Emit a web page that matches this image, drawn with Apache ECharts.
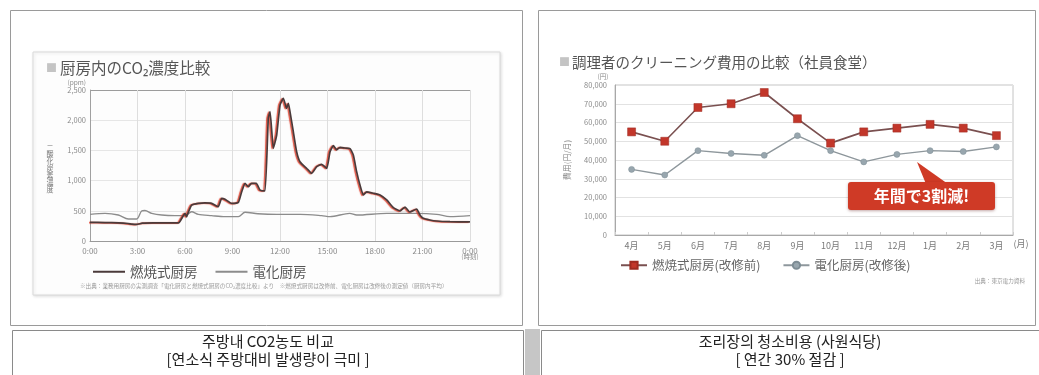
<!DOCTYPE html>
<html>
<head>
<meta charset="utf-8">
<script src="https://cdn.jsdelivr.net/npm/echarts@6/dist/echarts.min.js"></script>
<style>
  html, body { margin: 0; padding: 0; background: #ffffff; }
  #chart { width: 1039px; height: 375px; }
</style>
</head>
<body>
<div id="chart"></div>
<script>
// CO2 concentration in the kitchen through one day: hour of day and ppm
const burnHours = [0, 0.95, 1.8, 2.4, 2.65, 2.95, 3.3, 4.0, 5.0, 5.6, 5.8, 6.0, 6.1, 6.2, 6.42, 6.84, 7.26, 7.68, 8.1, 8.32, 8.53, 8.95, 9.37, 9.58, 9.79, 10.0, 10.2, 10.5, 10.74, 11.05, 11.26, 11.37, 11.58, 11.79, 12.0, 12.21, 12.42, 12.53, 12.63, 12.84, 13.05, 13.26, 13.68, 14.0, 14.32, 14.63, 14.95, 15.16, 15.37, 15.58, 15.79, 16.1, 16.42, 16.63, 16.84, 17.05, 17.26, 17.47, 17.9, 18.32, 18.74, 19.16, 19.58, 19.9, 20.2, 20.63, 20.84, 21.05, 21.47, 21.9, 22.74, 24];
const burnPpm = [310, 305, 300, 290, 280, 275, 295, 300, 300, 300, 376, 458, 400, 470, 596, 624, 630, 624, 568, 707, 690, 624, 640, 816, 955, 900, 955, 955, 844, 830, 2031, 2141, 1535, 1755, 2250, 2360, 2197, 2280, 2141, 1810, 1478, 1313, 1203, 1120, 1230, 1270, 1203, 1478, 1578, 1510, 1550, 1540, 1530, 1424, 1148, 927, 762, 812, 790, 762, 679, 552, 497, 560, 480, 530, 430, 376, 348, 331, 320, 315];
const elecHours = [0, 0.95, 1.79, 2.42, 2.95, 3.26, 3.47, 3.9, 4.53, 5.37, 6.0, 6.42, 6.84, 7.68, 8.53, 9.37, 9.79, 10.6, 11.8, 12.8, 13.3, 14.63, 15.16, 16.4, 16.84, 18.74, 20.63, 21.9, 22.74, 24];
const elecPpm = [441, 458, 430, 364, 364, 497, 505, 458, 430, 420, 420, 485, 441, 420, 403, 403, 475, 452, 441, 441, 441, 420, 403, 458, 430, 458, 458, 441, 403, 420];

// Monthly uniform-cleaning cost for cooks (staff canteen), yen
const monthLabels = ['4月', '5月', '6月', '7月', '8月', '9月', '10月', '11月', '12月', '1月', '2月', '3月'];
const burnCost = [55000, 50000, 68000, 70000, 76000, 62000, 49000, 55000, 57000, 59000, 57000, 53000];
const elecCost = [35000, 32000, 45000, 43500, 42500, 53000, 45000, 39000, 43000, 45000, 44500, 47000];

const JP = '"Noto Sans CJK JP", "Noto Sans", sans-serif';
const KR = '"Noto Sans CJK KR", "Noto Sans", sans-serif';

const pairs = (xs, ys) => xs.map((x, i) => [x, ys[i]]);
const stack = s => s.split('').join('\n');

const chart = echarts.init(document.getElementById('chart'), null, { renderer: 'canvas' });

chart.setOption({
  animation: false,
  backgroundColor: '#ffffff',
  textStyle: { fontFamily: JP },
  grid: [
    { left: 90, top: 90, width: 380, height: 151, show: false },
    { left: 615, top: 85, width: 398, height: 150, show: true, borderColor: '#c4c4c4', borderWidth: 1, backgroundColor: 'transparent' }
  ],
  xAxis: [
    {
      gridIndex: 0, type: 'value', min: 0, max: 24, interval: 3,
      axisLine: { show: true, lineStyle: { color: '#9a9a9a', width: 1 } },
      axisTick: { show: false },
      splitLine: { show: true, lineStyle: { color: '#dedede', width: 1 } },
      axisLabel: { color: '#8a8a8a', fontSize: 8, margin: 6, formatter: h => (h % 24) + ':00' }
    },
    {
      gridIndex: 1, type: 'category', data: monthLabels, boundaryGap: true,
      axisLine: { show: true, lineStyle: { color: '#a8a8a8' } },
      axisTick: { show: true, inside: true, length: 3, lineStyle: { color: '#cccccc' } },
      splitLine: { show: false },
      axisLabel: { color: '#7a7a7a', fontSize: 9, margin: 6 }
    }
  ],
  yAxis: [
    {
      gridIndex: 0, type: 'value', min: 0, max: 2500, interval: 500,
      axisLine: { show: true, lineStyle: { color: '#a0a0a0' } },
      axisTick: { show: false },
      splitLine: { show: true, lineStyle: { color: ['#e6e6e6', '#e6e6e6', '#e6e6e6', '#e6e6e6', '#e6e6e6', '#9c9c9c'] } },
      axisLabel: { color: '#8a8a8a', fontSize: 7.5, margin: 4 }
    },
    {
      gridIndex: 1, type: 'value', min: 0, max: 80000, interval: 10000,
      axisLine: { show: true, lineStyle: { color: '#a8a8a8' } },
      axisTick: { show: false },
      splitLine: { show: true, lineStyle: { color: '#e2e2e2' } },
      axisLabel: { color: '#8a8a8a', fontSize: 7.5, margin: 8,
        formatter: v => v === 0 ? '0' : v.toLocaleString('en-US') },
      name: '費用(円/月)', nameLocation: 'middle', nameRotate: 90, nameGap: 44,
      nameTextStyle: { color: '#8a8a8a', fontSize: 8 }
    }
  ],
  legend: [
    {
      data: ['燃焼式厨房', '電化厨房'], left: 88, top: 260, icon: 'rect', itemWidth: 32, itemHeight: 2, itemGap: 18,
      textStyle: { color: '#555555', fontSize: 13.5, fontFamily: JP }
    },
    {
      data: ['燃焼式厨房(改修前)', '電化厨房(改修後)'], left: 615, top: 254, itemWidth: 26, itemHeight: 9, itemGap: 22,
      textStyle: { color: '#666666', fontSize: 12.5, fontFamily: JP }
    }
  ],
  series: [
    {
      name: '電化厨房', type: 'line', xAxisIndex: 0, yAxisIndex: 0,
      data: pairs(elecHours, elecPpm), showSymbol: false, symbol: 'none', smooth: 0.3,
      lineStyle: { color: '#8c8c8c', width: 1.4 },
      itemStyle: { color: '#8c8c8c' }, z: 3
    },
    {
      name: '燃焼式厨房', type: 'line', xAxisIndex: 0, yAxisIndex: 0,
      data: pairs(burnHours, burnPpm), showSymbol: false, symbol: 'none', smooth: 0.15,
      lineStyle: { color: '#4a3a3a', width: 1.7, shadowColor: 'rgba(220,55,35,0.9)', shadowBlur: 1, shadowOffsetX: -1.3, shadowOffsetY: 0.3 },
      itemStyle: { color: '#4a3a3a' }, z: 4
    },
    {
      name: '燃焼式厨房(改修前)', type: 'line', xAxisIndex: 1, yAxisIndex: 1,
      data: burnCost, symbol: 'rect', symbolSize: 8, showSymbol: true,
      lineStyle: { color: '#7a5050', width: 1.6 },
      itemStyle: { color: '#c2362a', borderColor: '#9e2a20', borderWidth: 0.5 }, z: 4
    },
    {
      name: '電化厨房(改修後)', type: 'line', xAxisIndex: 1, yAxisIndex: 1,
      data: elecCost, symbol: 'circle', symbolSize: 6, showSymbol: true,
      lineStyle: { color: '#8e979c', width: 1.5 },
      itemStyle: { color: '#98a6ae', borderColor: '#7d8c94', borderWidth: 0.5 }, z: 3
    }
  ],
  graphic: [
    // panel frames
    { type: 'rect', z: -20, shape: { x: 10.5, y: 10.5, width: 512, height: 315 }, style: { fill: '#ffffff', stroke: '#9a9a9a', lineWidth: 1 } },
    { type: 'rect', z: -20, shape: { x: 538.5, y: 10.5, width: 497, height: 315 }, style: { fill: '#ffffff', stroke: '#9a9a9a', lineWidth: 1 } },
    // caption boxes and the bar between them
    { type: 'rect', z: -20, shape: { x: 12.5, y: 330.5, width: 511, height: 60 }, style: { fill: '#ffffff', stroke: '#8a8a8a', lineWidth: 1 } },
    { type: 'rect', z: -20, shape: { x: 541.5, y: 330.5, width: 500, height: 60 }, style: { fill: '#ffffff', stroke: '#8a8a8a', lineWidth: 1 } },
    { type: 'rect', z: -20, shape: { x: 525, y: 329, width: 15, height: 50 }, style: { fill: '#c6c6c6' } },
    // inner card behind the CO2 chart
    { type: 'rect', z: -15, shape: { x: 33, y: 52, width: 467, height: 243 },
      style: { fill: '#fdfdfd', stroke: '#dadada', lineWidth: 1, shadowColor: 'rgba(0,0,0,0.12)', shadowBlur: 3, shadowOffsetX: 1, shadowOffsetY: 1 } },

    // CO2 chart texts
    { type: 'text', x: 46, y: 60, style: { text: '{s|■}{t|厨房内のCO₂濃度比較}',
      rich: { s: { fill: '#c4c4c4', fontSize: 11, fontFamily: JP, padding: [0, 3, 0, 0] }, t: { fill: '#555555', fontSize: 15.5, fontFamily: JP } } } },
    { type: 'text', x: 86, y: 79, style: { text: '(ppm)', fill: '#8a8a8a', fontSize: 6.5, fontFamily: JP, align: 'right' } },
    { type: 'text', x: 50, y: 144, style: { text: stack('二酸化炭素濃度'), fill: '#777777', fontSize: 7, lineHeight: 7, fontFamily: JP, align: 'center' } },
    { type: 'text', x: 470, y: 253, style: { text: '(時刻)', fill: '#8a8a8a', fontSize: 6.5, fontFamily: JP, align: 'center' } },
    { type: 'text', x: 80, y: 283, style: { text: '※出典：業務用厨房の実測調査「電化厨房と燃焼式厨房のCO₂濃度比較」より　※燃焼式厨房は改修前、電化厨房は改修後の測定値（厨房内平均）', fill: '#999999', fontSize: 5.6, fontFamily: JP } },

    // cleaning cost chart texts
    { type: 'text', x: 559, y: 55, style: { text: '{s|■}{t|調理者のクリーニング費用の比較（社員食堂）}',
      rich: { s: { fill: '#c4c4c4', fontSize: 11, fontFamily: JP, padding: [0, 2, 0, 0] }, t: { fill: '#555555', fontSize: 14.5, fontFamily: JP } } } },
    { type: 'text', x: 603, y: 73, style: { text: '(円)', fill: '#8a8a8a', fontSize: 6.5, fontFamily: JP, align: 'center' } },
    { type: 'text', x: 1021, y: 239, style: { text: '(月)', fill: '#7a7a7a', fontSize: 9, fontFamily: JP, align: 'center' } },
    { type: 'text', x: 1025, y: 278, style: { text: '出典：東京電力資料', fill: '#999999', fontSize: 5.6, fontFamily: JP, align: 'right' } },

    // callout
    { type: 'polygon', z: 50, shape: { points: [[917, 162], [926, 184], [948, 184]] }, style: { fill: '#cf3a26' } },
    { type: 'rect', z: 50, shape: { x: 848, y: 182, width: 147, height: 28, r: 3 },
      style: { fill: '#cf3a26', shadowColor: 'rgba(80,0,0,0.35)', shadowBlur: 3, shadowOffsetY: 1 } },
    { type: 'text', z: 51, x: 921.5, y: 196, style: { text: '年間で3割減!', fill: '#ffffff', fontSize: 16, fontWeight: 'bold', fontFamily: JP, align: 'center', verticalAlign: 'middle' } },

    // captions
    { type: 'text', x: 268, y: 341, style: { text: '주방내 CO2농도 비교', fill: '#222222', fontSize: 15, fontFamily: KR, align: 'center', verticalAlign: 'middle' } },
    { type: 'text', x: 268, y: 359, style: { text: '[연소식 주방대비 발생량이 극미 ]', fill: '#222222', fontSize: 15, fontFamily: KR, align: 'center', verticalAlign: 'middle' } },
    { type: 'text', x: 790, y: 341, style: { text: '조리장의 청소비용 (사원식당)', fill: '#222222', fontSize: 15, fontFamily: KR, align: 'center', verticalAlign: 'middle' } },
    { type: 'text', x: 790, y: 359, style: { text: '[ 연간 30% 절감 ]', fill: '#222222', fontSize: 15, fontFamily: KR, align: 'center', verticalAlign: 'middle' } }
  ]
});
</script>
</body>
</html>
